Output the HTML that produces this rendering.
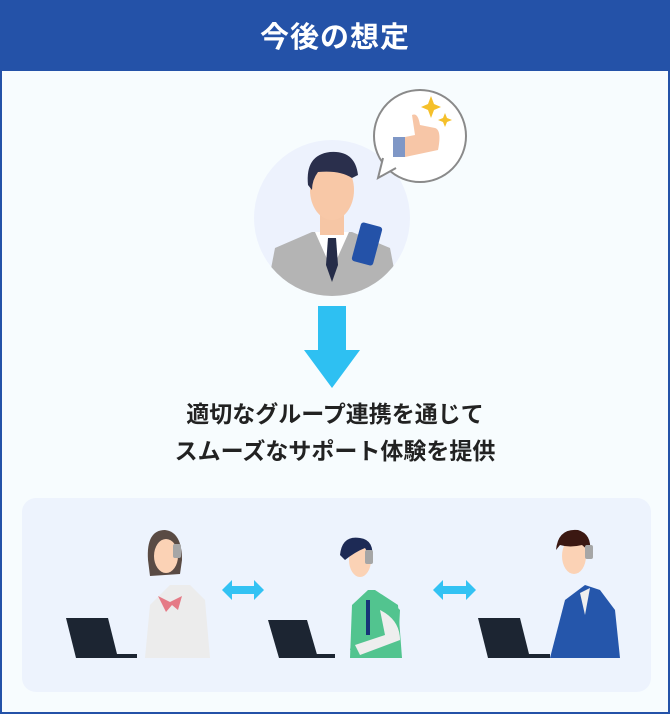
<!DOCTYPE html>
<html><head><meta charset="utf-8"><style>
html,body{margin:0;padding:0;}
body{width:670px;height:714px;overflow:hidden;font-family:"Liberation Sans","Noto Sans CJK JP",sans-serif;}
</style></head><body>
<svg width="670" height="714" viewBox="0 0 670 714" xmlns="http://www.w3.org/2000/svg">
<rect x="0" y="0" width="670" height="714" fill="#f7fcfe"/>
<rect x="1" y="1" width="668" height="712" fill="none" stroke="#2452a8" stroke-width="2"/>
<rect x="0" y="0" width="670" height="71" fill="#2452a8"/>
<text x="335" y="47" text-anchor="middle" fill="#fff" font-size="29" font-weight="bold" letter-spacing="1" font-family="Liberation Sans,Noto Sans CJK JP,sans-serif">今後の想定</text>

<defs><clipPath id="c"><circle cx="332" cy="218" r="78"/></clipPath></defs>
<circle cx="332" cy="218" r="78" fill="#edf2fd"/>
<g clip-path="url(#c)">
<path d="M265 300 L275 248 L312 232 L352 232 L390 248 L400 300Z" fill="#b4b4b4"/>
<path d="M315 232 L332 270 L349 232Z" fill="#fff"/>
<path d="M328 238 L336 238 L338 265 L332 282 L326 265Z" fill="#252c48"/>
<rect x="320" y="205" width="24" height="30" fill="#f6c6a5"/>
</g>
<ellipse cx="332" cy="190" rx="22" ry="30" fill="#f8c8a7"/>
<path d="M308 185 Q305 155 330 152 Q355 150 358 175 L352 178 Q340 170 318 172 Q312 180 312 190Z" fill="#2a2f4c"/>
<rect x="356" y="224" width="22" height="40" rx="3" fill="#2452a8" transform="rotate(15 367 244)"/>
<circle cx="420" cy="136" r="46" fill="#fff" stroke="#8a8a8a" stroke-width="2"/>
<path d="M383 158 L378 178 L396 168" fill="#fff" stroke="#8a8a8a" stroke-width="2"/>
<path d="M386 160 L392 168 L400 162Z" fill="#fff"/>
<rect x="393" y="137" width="12" height="20" fill="#7f97c6"/>
<path d="M405 137 L415 135 L412 115 Q418 112 420 125 L435 128 Q442 130 438 150 L405 157Z" fill="#f7c6a7"/>
<path d="M431 96 L434 104 L441 107 L434 110 L431 118 L428 110 L421 107 L428 104Z" fill="#f5c02a"/>
<path d="M445 113 L447 118 L452 120 L447 122 L445 127 L443 122 L438 120 L443 118Z" fill="#f5c02a"/>

<path d="M318 306 H346 V350 H360 L332 388 L304 350 H318Z" fill="#2ec0f2"/>

<text x="335" y="422" text-anchor="middle" fill="#222" font-size="23" font-weight="bold" font-family="Liberation Sans,Noto Sans CJK JP,sans-serif">適切なグループ連携を通じて</text>
<text x="335" y="459" text-anchor="middle" fill="#222" font-size="23" font-weight="bold" font-family="Liberation Sans,Noto Sans CJK JP,sans-serif">スムーズなサポート体験を提供</text>

<rect x="22" y="498" width="629" height="194" rx="14" fill="#edf3fd"/>

<path d="M222 590 L232 580 V586 H254 V580 L264 590 L254 600 V594 H232 V600Z" fill="#32c2f3"/>
<path d="M433 590 L443 580 V586 H466 V580 L476 590 L466 600 V594 H443 V600Z" fill="#32c2f3"/>

<path d="M145 658 L150 605 L170 585 L190 585 L205 600 L210 658Z" fill="#ececec"/>
<path d="M158 596 L170 602 L182 596 L178 610 L172 605 L166 612Z" fill="#e57a86"/>
<path d="M148 560 Q146 530 165 530 Q182 532 182 560 L180 574 L150 576Z" fill="#5a4b44"/>
<ellipse cx="166" cy="556" rx="12" ry="17" fill="#fbd2b5"/>
<rect x="173" y="544" width="8" height="14" rx="2" fill="#a6a6a6"/>
<path d="M66 618 H108 L118 658 H76Z" fill="#1c2532"/>
<rect x="110" y="654" width="27" height="4" fill="#1c2532"/>

<path d="M350 658 L352 605 L368 590 L375 590 L398 605 L402 658Z" fill="#52c48f"/>
<path d="M362 598 L374 596 L380 610 L390 600 L400 610 L398 650 L350 650Z" fill="#52c48f"/>
<rect x="366" y="600" width="4" height="35" fill="#173377"/>
<path d="M380 610 Q400 620 400 640 L360 655 L355 645 L385 635Z" fill="#eeeeee"/>
<ellipse cx="360" cy="560" rx="11" ry="17" fill="#fbd2b5"/>
<path d="M340 555 Q342 535 360 538 Q375 540 372 560 L365 548 Q355 552 345 560Z" fill="#1d2a55"/>
<rect x="365" y="550" width="8" height="14" rx="2" fill="#a6a6a6"/>
<path d="M268 620 H307 L318 658 H279Z" fill="#1c2532"/>
<rect x="315" y="654" width="20" height="4" fill="#1c2532"/>

<path d="M550 658 L565 600 L585 585 L600 590 L615 610 L620 658Z" fill="#2556ab"/>
<path d="M580 593 L590 588 L585 615Z" fill="#eeeeee"/>
<ellipse cx="574" cy="556" rx="12" ry="18" fill="#fbd2b5"/>
<path d="M556 550 Q558 528 578 530 Q592 534 590 552 L582 545 Q570 548 560 545Z" fill="#3b1812"/>
<rect x="585" y="545" width="8" height="14" rx="2" fill="#a6a6a6"/>
<path d="M478 618 H520 L530 658 H488Z" fill="#1c2532"/>
<rect x="525" y="654" width="25" height="4" fill="#1c2532"/>
</svg>
</body></html>
